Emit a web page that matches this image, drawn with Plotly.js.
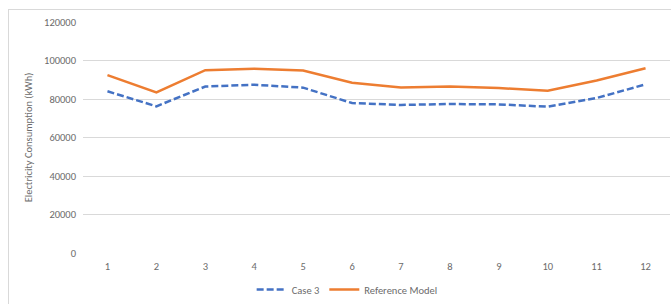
<!DOCTYPE html>
<html>
<head>
<meta charset="utf-8">
<script src="https://cdn.plot.ly/plotly-3.0.1.min.js"></script>
<style>
  html, body { margin: 0; padding: 0; background: #fff; }
  #wrap { position: relative; width: 671px; height: 304px; overflow: hidden; }
  #frame { position: absolute; left: 8px; top: 9px; width: 700px; height: 400px; border: 1px solid #D9D9D9; box-sizing: border-box; pointer-events: none; }
  #chart { position: absolute; left: 0; top: 0; width: 671px; height: 304px; }
</style>
</head>
<body>
<div id="wrap">
  <div id="chart"></div>
  <div id="frame"></div>
</div>
<script>
const months = [1, 2, 3, 4, 5, 6, 7, 8, 9, 10, 11, 12];
const case3 = [84000, 76200, 86500, 87400, 85900, 77900, 76900, 77400, 77200, 76000, 80500, 87600];
const referenceModel = [92400, 83400, 95000, 95700, 94800, 88400, 86000, 86500, 85700, 84300, 89600, 96000];
const yTicks = [0, 20000, 40000, 60000, 80000, 100000, 120000];

const font = { family: 'Calibri, Carlito, "Liberation Sans", Arial, sans-serif', size: 10.5, color: '#6b6b6b' };

const traces = [
  {
    x: months, y: case3, name: 'Case 3', type: 'scatter', mode: 'lines',
    line: { color: '#4472C4', width: 2.5, dash: '7px,3px' }
  },
  {
    x: months, y: referenceModel, name: 'Reference Model', type: 'scatter', mode: 'lines',
    line: { color: '#ED7D31', width: 2.5 }
  }
];

const layout = {
  width: 671, height: 304,
  margin: { l: 83, r: 1, t: 22, b: 50 },
  paper_bgcolor: '#fff', plot_bgcolor: '#fff',
  font: font,
  showlegend: true,
  legend: {
    orientation: 'h', x: 0.45, xanchor: 'center', y: -0.155, yanchor: 'middle',
    font: font, itemwidth: 30, tracegroupgap: 0
  },
  xaxis: {
    range: [0.5, 12.5], tickvals: months, ticktext: months.map(String),
    showgrid: false, zeroline: false, showline: false, ticks: '',
    ticklabelstandoff: 5,
    tickfont: font, fixedrange: true
  },
  yaxis: {
    range: [0, 120000], tickvals: yTicks, ticktext: yTicks.map(String),
    showgrid: true, gridcolor: '#D9D9D9', gridwidth: 1,
    zeroline: false, showline: false, ticks: '', ticklen: 0,
    ticklabelstandoff: 6,
    tickfont: font,
    title: { text: 'Electricity Consumption (kWh)', font: font, standoff: 9 },
    fixedrange: true
  }
};

Plotly.newPlot('chart', traces, layout, { displayModeBar: false, staticPlot: true });
</script>
</body>
</html>
